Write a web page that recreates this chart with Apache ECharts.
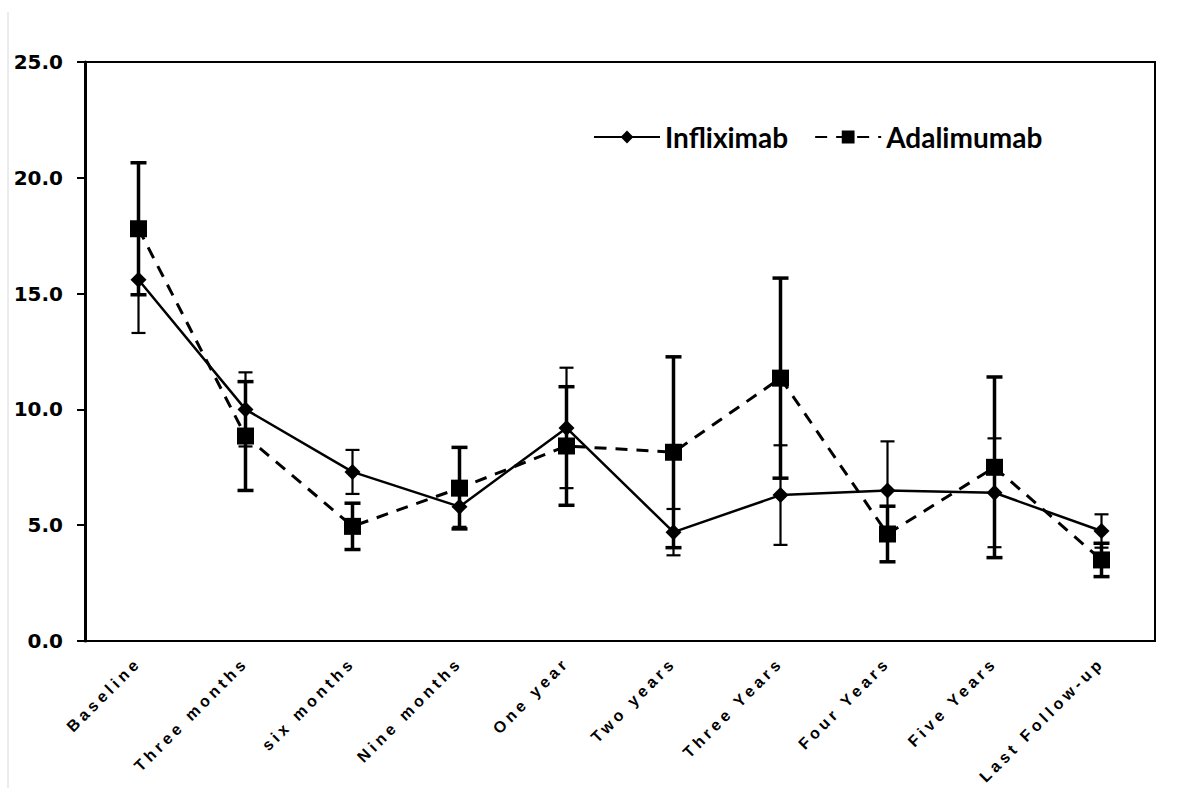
<!DOCTYPE html>
<html>
<head>
<meta charset="utf-8">
<script src="https://cdn.jsdelivr.net/npm/echarts@6/dist/echarts.min.js"></script>
<style>
  html, body { margin: 0; padding: 0; background: #fff; }
  #Chart { width: 1181px; height: 788px; }
  /* the rotated category labels are letter-spaced in the original */
  #Chart svg text[transform*="0.707"] { letter-spacing: 4px; }
</style>
</head>
<body>
<div id="Chart"></div>
<script>
var categories = ['Baseline', 'Three months', 'six months', 'Nine months', 'One year',
    'Two years', 'Three Years', 'Four Years', 'Five Years', 'Last Follow-up'];
var infliximab = [15.6, 10.0, 7.3, 5.8, 9.2, 4.7, 6.3, 6.5, 6.4, 4.75];
var infliximabErr = [2.3, 1.6, 0.95, 0.87, 2.6, 1.0, 2.15, 2.12, 2.35, 0.72];
var adalimumab = [17.8, 8.85, 4.95, 6.6, 8.42, 8.15, 11.35, 4.62, 7.5, 3.5];
var adalimumabErr = [2.85, 2.35, 1.0, 1.76, 2.56, 4.12, 4.32, 1.2, 3.9, 0.72];
var yTicks = [0, 5, 10, 15, 20, 25];

function errData(vals, errs) {
    return vals.map(function (v, i) { return [i, v - errs[i], v + errs[i]]; });
}

function errRenderer(width, capHalf) {
    return function (params, api) {
        var i = api.value(0);
        var lo = api.coord([i, api.value(1)]);
        var hi = api.coord([i, api.value(2)]);
        var st = { stroke: '#000', lineWidth: width };
        return {
            type: 'group',
            children: [
                { type: 'line', shape: { x1: lo[0], y1: lo[1], x2: hi[0], y2: hi[1] }, style: st },
                { type: 'line', shape: { x1: hi[0] - capHalf, y1: hi[1], x2: hi[0] + capHalf, y2: hi[1] }, style: st },
                { type: 'line', shape: { x1: lo[0] - capHalf, y1: lo[1], x2: lo[0] + capHalf, y2: lo[1] }, style: st }
            ]
        };
    };
}

var Chart = echarts.init(document.getElementById('Chart'), null, { renderer: 'svg' });

var ChartOption = {
    animation: false,
    backgroundColor: '#fff',
    graphic: [{
        type: 'line',
        shape: { x1: 8, y1: 12, x2: 8, y2: 788 },
        style: { stroke: '#d8d8d8', lineWidth: 1 }
    }],
    grid: {
        left: 85, right: 26, top: 62, bottom: 147,
        show: true, borderColor: '#000', borderWidth: 2
    },
    legend: {
        left: 588, top: 118,
        itemWidth: 66, itemHeight: 16, itemGap: 26,
        textStyle: { fontFamily: 'Lato', fontWeight: 'bold', fontSize: 28, color: '#000' },
        data: ['Infliximab', 'Adalimumab']
    },
    xAxis: {
        type: 'category',
        data: categories,
        axisLine: { lineStyle: { color: '#000', width: 2 } },
        axisTick: { show: false },
        axisLabel: {
            rotate: 45, interval: 0, margin: 19, color: '#000',
            fontFamily: 'Liberation Sans', fontWeight: 'bold', fontSize: 16
        }
    },
    yAxis: {
        type: 'value',
        min: 0, max: 25, interval: 5,
        splitLine: { show: false },
        axisLine: { show: true, lineStyle: { color: '#000', width: 3 } },
        axisTick: { show: true, length: 8, lineStyle: { color: '#000', width: 2 } },
        axisLabel: {
            margin: 22, color: '#000',
            fontFamily: 'DejaVu Sans', fontWeight: 'bold', fontSize: 20,
            formatter: function (v) { return yTicks.indexOf(v) >= 0 ? v.toFixed(1) : ''; }
        }
    },
    series: [
        {
            name: 'Adalimumab err',
            type: 'custom',
            renderItem: errRenderer(3.5, 8),
            data: errData(adalimumab, adalimumabErr),
            encode: { x: 0, y: [1, 2] },
            z: 2
        },
        {
            name: 'Infliximab err',
            type: 'custom',
            renderItem: errRenderer(2.2, 7),
            data: errData(infliximab, infliximabErr),
            encode: { x: 0, y: [1, 2] },
            z: 2
        },
        {
            name: 'Infliximab',
            type: 'line',
            data: infliximab,
            symbol: 'diamond',
            symbolSize: 16,
            itemStyle: { color: '#000' },
            lineStyle: { color: '#000', width: 2.5 },
            z: 3
        },
        {
            name: 'Adalimumab',
            type: 'line',
            data: adalimumab,
            symbol: 'rect',
            symbolSize: 17,
            itemStyle: { color: '#000' },
            lineStyle: { color: '#000', width: 3, type: [12, 9] },
            z: 3
        }
    ]
};

Chart.setOption(ChartOption);
window.addEventListener("resize", function () {
    Chart.resize();
});
</script>
</body>
</html>
